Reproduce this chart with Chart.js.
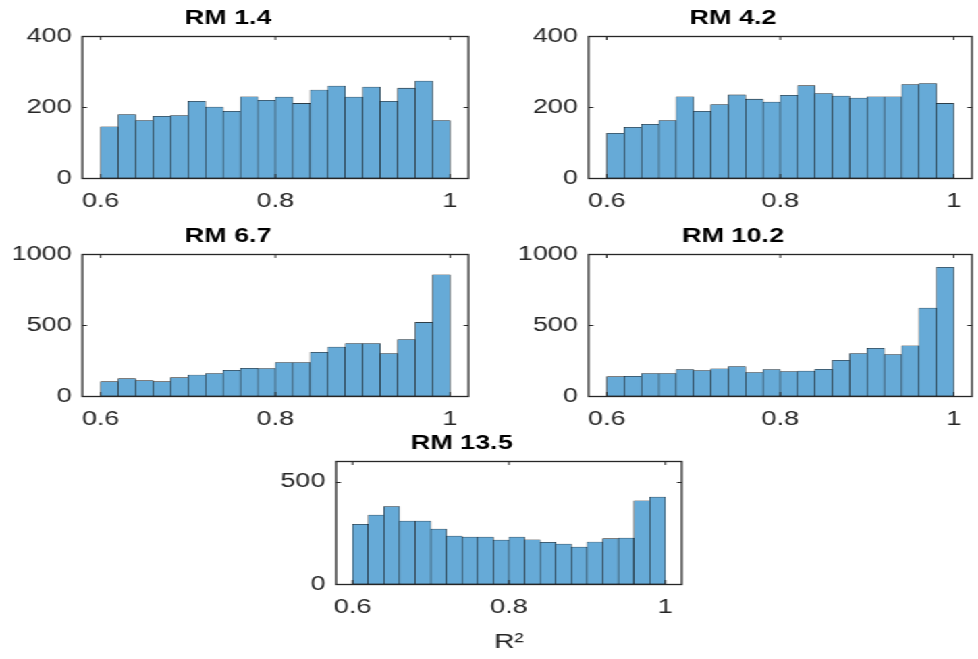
<!DOCTYPE html>
<html>
<head>
<meta charset="utf-8">
<script src="https://cdn.jsdelivr.net/npm/chart.js@4.4.0/dist/chart.umd.min.js"></script>
<style>
    html, body { margin: 0; padding: 0; background: #fff; overflow: hidden; }
    body { width: 978px; height: 659px; position: relative; }
    #stage { position: absolute; left: 0; top: 0; width: 725px; height: 659px; transform: scaleX(1.35); transform-origin: 0 0; }
    #stage canvas { position: absolute; }
</style>
</head>
<body>
<div id="stage"></div>
<script>
// bin centres of the R^2 histogram (bin width 0.02)
const binCenters = [0.61, 0.63, 0.65, 0.67, 0.69, 0.71, 0.73, 0.75, 0.77, 0.79,
                    0.81, 0.83, 0.85, 0.87, 0.89, 0.91, 0.93, 0.95, 0.97, 0.99];

// counts per bin
const rm14  = [144, 179, 162, 174, 176, 216, 200, 188, 229, 219, 228, 210, 248, 259, 228, 256, 216, 253, 273, 162];
const rm42  = [126, 143, 151, 162, 229, 188, 207, 234, 222, 214, 233, 260, 238, 231, 225, 229, 229, 263, 266, 210];
const rm67  = [101, 122, 108, 101, 129, 148, 158, 181, 195, 193, 235, 235, 308, 344, 369, 369, 299, 398, 518, 854];
const rm102 = [136, 139, 158, 158, 186, 179, 191, 207, 165, 186, 172, 176, 188, 252, 299, 336, 292, 353, 619, 906];
const rm135 = [291, 336, 378, 307, 307, 268, 234, 229, 229, 214, 229, 216, 203, 195, 180, 205, 221, 224, 406, 424];

const titles = ['RM 1.4', 'RM 4.2', 'RM 6.7', 'RM 10.2', 'RM 13.5'];
const xTicks = [0.6, 0.8, 1];
const yTicks400 = [0, 200, 400];
const yTicks1000 = [0, 500, 1000];
const yTicks500 = [0, 500];

// layout (picture pixels): axes box left, top, right, bottom
const S = 1.35; // horizontal stretch of the original figure
const panels = [
    { title: titles[0], counts: rm14,  yTicks: yTicks400,  yMax: 400,  box: [82, 36, 468, 178] },
    { title: titles[1], counts: rm42,  yTicks: yTicks400,  yMax: 400,  box: [588, 36, 972, 178] },
    { title: titles[2], counts: rm67,  yTicks: yTicks1000, yMax: 1000, box: [82, 254, 468, 396] },
    { title: titles[3], counts: rm102, yTicks: yTicks1000, yMax: 1000, box: [588, 254, 972, 396] },
    { title: titles[4], counts: rm135, yTicks: yTicks500,  yMax: 600,  box: [336, 461, 682, 584], xLabel: 'R\u00B2' }
];

Chart.defaults.font.family = "'Liberation Sans', Arial, Helvetica, sans-serif";
Chart.defaults.color = '#262626';

// MATLAB style box with inward ticks
const boxPlugin = {
    id: 'matlabBox',
    afterDatasetsDraw(chart) {
        const { ctx, chartArea: a, scales: { x, y } } = chart;
        ctx.save();
        ctx.strokeStyle = '#262626';
        ctx.lineWidth = 1.3;
        ctx.strokeRect(a.left, a.top + 0.5, a.right - a.left, a.bottom - a.top);
        ctx.lineWidth = 1;
        ctx.beginPath();
        x.ticks.forEach(t => {
            const px = x.getPixelForValue(t.value);
            ctx.moveTo(px, a.bottom); ctx.lineTo(px, a.bottom - 4);
            ctx.moveTo(px, a.top); ctx.lineTo(px, a.top + 4);
        });
        y.ticks.forEach(t => {
            const py = Math.round(y.getPixelForValue(t.value)) + 0.5;
            ctx.moveTo(a.left, py); ctx.lineTo(a.left + 3.5, py);
            ctx.moveTo(a.right, py); ctx.lineTo(a.right - 3.5, py);
        });
        ctx.stroke();
        ctx.restore();
    }
};

const stage = document.getElementById('stage');
const padTop = 40, yAxisW = 70;

panels.forEach(p => {
    const [l, t, r, b] = p.box;
    const w = (r - l) / S, h = b - t;
    const xAxisH = p.xLabel ? 75 : 46;
    const canvas = document.createElement('canvas');
    canvas.width = Math.round(w + 2 * yAxisW);
    canvas.height = Math.round(padTop + h + xAxisH);
    canvas.style.left = (l / S - yAxisW) + 'px';
    canvas.style.top = (t - padTop) + 'px';
    stage.appendChild(canvas);

    new Chart(canvas.getContext('2d'), {
        type: 'bar',
        data: {
            datasets: [{
                data: binCenters.map((c, i) => ({ x: c, y: p.counts[i] })),
                backgroundColor: 'rgb(102, 170, 215)',
                borderColor: 'rgba(0, 0, 0, 0.9)',
                borderWidth: 0.55,
                borderSkipped: false,
                barPercentage: 1,
                categoryPercentage: 1
            }]
        },
        plugins: [boxPlugin],
        options: {
            responsive: false,
            animation: false,
            layout: { padding: { left: 0, right: yAxisW, top: 0, bottom: 0 } },
            plugins: {
                legend: { display: false },
                tooltip: { enabled: false },
                title: {
                    display: true,
                    text: p.title,
                    color: '#000',
                    font: { size: 20, weight: 'bold' },
                    padding: { top: 10, bottom: 6 }
                }
            },
            scales: {
                x: {
                    type: 'linear',
                    min: 0.579,
                    max: 1.021,
                    offset: false,
                    grid: { display: false, drawTicks: false },
                    border: { display: false },
                    afterBuildTicks: s => { s.ticks = xTicks.map(v => ({ value: v })); },
                    afterFit: s => { s.height = xAxisH; },
                    ticks: {
                        padding: 11,
                        maxRotation: 0,
                        font: { size: 20 },
                        callback: v => String(v)
                    },
                    title: {
                        display: !!p.xLabel,
                        text: p.xLabel || '',
                        font: { size: 21 },
                        padding: { top: 0, bottom: 4 }
                    }
                },
                y: {
                    min: 0,
                    max: p.yMax,
                    grid: { display: false, drawTicks: false },
                    border: { display: false },
                    afterBuildTicks: s => { s.ticks = p.yTicks.map(v => ({ value: v })); },
                    afterFit: s => { s.width = yAxisW; },
                    ticks: {
                        padding: 8,
                        font: { size: 20 },
                        callback: v => String(v)
                    }
                }
            }
        }
    });
});
</script>
</body>
</html>
